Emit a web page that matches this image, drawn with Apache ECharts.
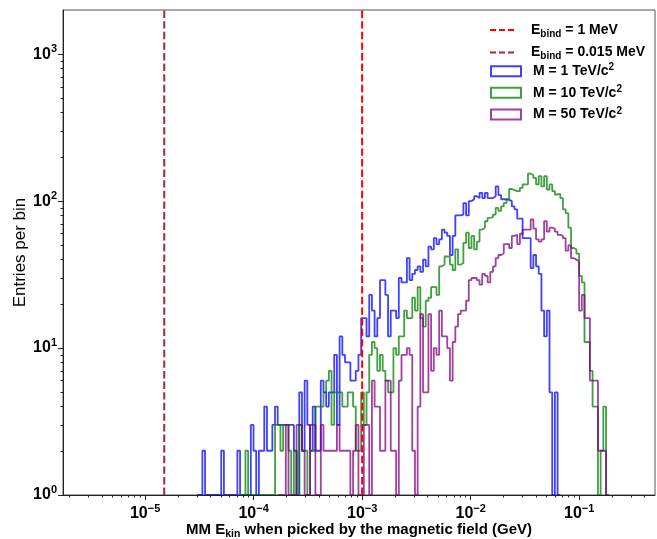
<!DOCTYPE html>
<html><head><meta charset="utf-8">
<script src="https://cdn.jsdelivr.net/npm/echarts@6/dist/echarts.min.js"></script>
<style>html,body{margin:0;padding:0;background:#fff}#c{width:657px;height:539px}</style>
</head><body><div id="c"></div>
<script>
// ---- histogram binning (log10 of bin edges in GeV) ----
const binLogStart = -5.514;
const binLogStep = 0.0248;

// ---- counts per bin ----
const blueStart = 40;
const blueCounts = [
  0,0,2,0,0,0,0,0,0,2,
  0,0,0,0,0,2,0,0,0,0,
  3,2,1,2,2,4,2,2,3,4,
  3,3,3,3,3,3,2,1,5,2,
  6,3,2,4,2,2,6,5,4,5,
  5,9,3,12,9,8,8,6,6,7,
  9,16,16,12,23,18,12,16,29,29,
  23,12,18,18,16,30,28,28,41,29,
  32,34,36,33,40,36,49,47,56,51,
  55,64,61,58,43,58,80,80,81,97,
  80,100,103,108,105,114,105,114,105,105,
  108,126,110,103,103,102,100,92,88,76,
  76,56,56,56,35,43,36,32,18,12,
  18,5,1,5,0
];
const greenStart = 56;
const greenCounts = [
  0,0,2,0,
  0,0,0,0,0,0,0,0,0,3,
  3,2,3,3,2,1,2,1,3,2,
  2,1,2,2,4,4,4,5,6,7,
  3,5,5,5,4,4,5,5,4,2,
  2,5,3,5,9,11,10,7,9,7,
  6,5,5,10,9,12,12,18,16,16,
  22,18,26,16,14,21,22,26,26,23,
  36,37,42,42,37,34,47,37,38,52,
  61,48,58,47,53,64,66,73,77,78,
  81,90,86,92,97,103,121,119,117,117,
  123,130,130,154,150,144,130,148,126,148,
  120,130,117,111,112,105,88,83,66,48,
  47,44,31,28,11,11,7,4,4,1,
  2,4,0
];
const purpleStart = 70;
const purpleCounts = [
  0,0,0,3,1,0,0,3,3,2,
  1,0,3,3,1,1,3,2,2,2,
  2,2,3,2,2,2,2,1,2,3,
  1,0,3,3,1,6,4,4,2,2,
  6,6,2,2,1,6,9,9,10,9,
  2,1,4,17,5,5,17,7,10,9,
  18,12,12,10,6,11,14,17,18,18,
  21,29,30,30,29,27,32,31,28,33,
  36,41,43,44,51,51,48,58,59,51,
  60,64,64,64,75,65,55,53,55,73,
  62,66,65,62,59,58,56,46,50,41,
  40,39,18,23,16,16,6,6,6,2,
  2,2,0
];

// ---- binding-energy reference lines (GeV) ----
const bindNames = ['E_bind = 1 MeV', 'E_bind = 0.015 MeV'];
const bindX = [1e-3, 1.5e-5];
const bindColors = ['#ff0000', '#a52a2a'];

const massNames = ['M = 1 TeV/c2', 'M = 10 TeV/c2', 'M = 50 TeV/c2'];
const massColors = ['rgba(0,0,255,0.75)', 'rgba(0,128,0,0.75)', 'rgba(128,0,128,0.75)'];

// ---- axes ----
const xMin = 1.75e-6, xMax = 0.5;
const yMin = 1, yMax = 2000;
const xTickValues = [1e-5, 1e-4, 1e-3, 1e-2, 1e-1];
const xTickExp = ['\u22125', '\u22124', '\u22123', '\u22122', '\u22121'];
const yTickValues = [1, 10, 100, 1000];
const yTickExp = ['0', '1', '2', '3'];
const minorMantissas = [2, 3, 4, 5, 6, 7, 8, 9];
const xMinorDecades = [1e-6, 1e-5, 1e-4, 1e-3, 1e-2, 1e-1];
const yMinorDecades = [1, 10, 100];

const F = 'Liberation Sans, Arial, Helvetica, sans-serif';

const xMinorTicks = [];
xMinorDecades.forEach(d => minorMantissas.forEach(m => { const v = m * d; if (v > xMin && v < xMax) xMinorTicks.push(v); }));
const yMinorTicks = [];
yMinorDecades.forEach(d => minorMantissas.forEach(m => { const v = m * d; if (v > yMin && v < yMax) yMinorTicks.push(v); }));

function histPoints(start, counts) {
  const pts = [];
  for (let k = 0; k < counts.length; k++) {
    const i = start + k;
    const x0 = Math.pow(10, binLogStart + i * binLogStep);
    const x1 = Math.pow(10, binLogStart + (i + 1) * binLogStep);
    const c = Math.max(counts[k], yMin);
    pts.push([x0, c], [x1, c]);
  }
  return pts;
}

const tickRich = {
  b: {fontSize: 16, fontWeight: 'bold', fontFamily: F, color: '#000', lineHeight: 18},
  s: {fontSize: 11, fontWeight: 'bold', fontFamily: F, color: '#000', lineHeight: 18, padding: [0, 0, 10, 0]}
};
function findIdx(arr, v) {
  for (let k = 0; k < arr.length; k++) if (Math.abs(Math.log10(arr[k]) - Math.log10(v)) < 1e-6) return k;
  return -1;
}

const legendRich = {
  t: {fontSize: 14, fontWeight: 'bold', fontFamily: F, color: '#000', lineHeight: 16},
  sub: {fontSize: 10, fontWeight: 'bold', fontFamily: F, color: '#000', lineHeight: 16, padding: [8, 0, 0, 0]},
  sup: {fontSize: 10, fontWeight: 'bold', fontFamily: F, color: '#000', lineHeight: 16, padding: [0, 0, 7, 0]}
};
function legendText(name) {
  if (name.indexOf('E_bind') === 0) return '{t|E}{sub|bind}{t|' + name.slice(6) + '}';
  return '{t|' + name.slice(0, -1) + '}{sup|2}';
}

const series = [];
const massData = [[blueStart, blueCounts], [greenStart, greenCounts], [purpleStart, purpleCounts]];
massData.forEach((d, j) => {
  series.push({
    name: massNames[j], type: 'line', xAxisIndex: 0, yAxisIndex: 0,
    data: histPoints(d[0], d[1]), showSymbol: false, symbol: 'none',
    color: massColors[j], itemStyle: {color: massColors[j]},
    lineStyle: {color: massColors[j], width: 1.8}, z: 2, clip: true
  });
});
bindX.forEach((x, j) => {
  series.push({
    name: bindNames[j], type: 'line', xAxisIndex: 0, yAxisIndex: 0,
    data: [[x, yMin], [x, yMax]], showSymbol: false, symbol: 'none',
    color: bindColors[j], itemStyle: {color: bindColors[j]},
    lineStyle: {color: bindColors[j], width: 2, type: [7.4, 3.2]}, z: 5
  });
});

const axisLineStyle = {color: '#222', width: 1};
const option = {
  animation: false,
  backgroundColor: '#fff',
  grid: {left: 63, right: 2, top: 10, bottom: 44, containLabel: false, outerBoundsMode: 'none',
         show: true, borderColor: '#555', borderWidth: 1, backgroundColor: 'transparent'},
  legend: [
    {data: bindNames, orient: 'vertical', left: 490, top: 21, padding: 0, itemWidth: 26, itemHeight: 2, itemGap: 4.6,
     icon: 'path://M0,0h6v2h-6z M9,0h6v2h-6z M18,0h6v2h-6z', formatter: legendText, selectedMode: false,
     textStyle: {rich: legendRich, padding: [0, 0, 0, 11]}},
    {data: massNames, orient: 'vertical', left: 490, top: 62.7, padding: 0, itemWidth: 30, itemHeight: 10, itemGap: 4.6,
     icon: 'emptyRect', formatter: legendText, selectedMode: false,
     textStyle: {rich: legendRich, padding: [0, 0, 0, 7]}}
  ],
  xAxis: [
    {type: 'log', logBase: 10, min: xMin, max: xMax, position: 'bottom', z: 10,
     axisLine: {show: true, lineStyle: axisLineStyle},
     axisTick: {show: true, inside: false, length: 5, lineStyle: axisLineStyle, customValues: xTickValues},
     axisLabel: {show: true, margin: 10, customValues: xTickValues, rich: tickRich,
       formatter: v => { const k = findIdx(xTickValues, v); return k < 0 ? '' : '{b|10}{s|' + xTickExp[k] + '}'; }},
     splitLine: {show: false}, minorTick: {show: false},
     name: '{t|MM E}{sub|kin}{t| when picked by the magnetic field (GeV)}',
     nameLocation: 'middle', nameGap: 26, nameMoveOverlap: false,
     nameTextStyle: {rich: {
       t: {fontSize: 15, fontWeight: 'bold', fontFamily: F, color: '#000', lineHeight: 18},
       sub: {fontSize: 10.5, fontWeight: 'bold', fontFamily: F, color: '#000', lineHeight: 18, padding: [8, 0, 0, 0]}}}},
    {type: 'log', logBase: 10, min: xMin, max: xMax, position: 'bottom', z: 10,
     axisLine: {show: false},
     axisTick: {show: true, inside: false, length: 2.5, lineStyle: axisLineStyle, customValues: xMinorTicks},
     axisLabel: {show: false}, splitLine: {show: false}}
  ],
  yAxis: [
    {type: 'log', logBase: 10, min: yMin, max: yMax, position: 'left', z: 10,
     axisLine: {show: true, lineStyle: axisLineStyle},
     axisTick: {show: true, inside: false, length: 5, lineStyle: axisLineStyle, customValues: yTickValues},
     axisLabel: {show: true, margin: 6, customValues: yTickValues, rich: tickRich,
       formatter: v => { const k = findIdx(yTickValues, v); return k < 0 ? '' : '{b|10}{s|' + yTickExp[k] + '}'; }},
     splitLine: {show: false},
     name: 'Entries per bin', nameLocation: 'middle', nameGap: 34, nameMoveOverlap: false,
     nameTextStyle: {fontSize: 17, fontFamily: F, color: '#000'}},
    {type: 'log', logBase: 10, min: yMin, max: yMax, position: 'left', z: 10,
     axisLine: {show: false},
     axisTick: {show: true, inside: false, length: 2.5, lineStyle: axisLineStyle, customValues: yMinorTicks},
     axisLabel: {show: false}, splitLine: {show: false}}
  ],
  series: series
};
const chart = echarts.init(document.getElementById('c'), null, {renderer: 'canvas'});
chart.setOption(option);
</script>
</body></html>
